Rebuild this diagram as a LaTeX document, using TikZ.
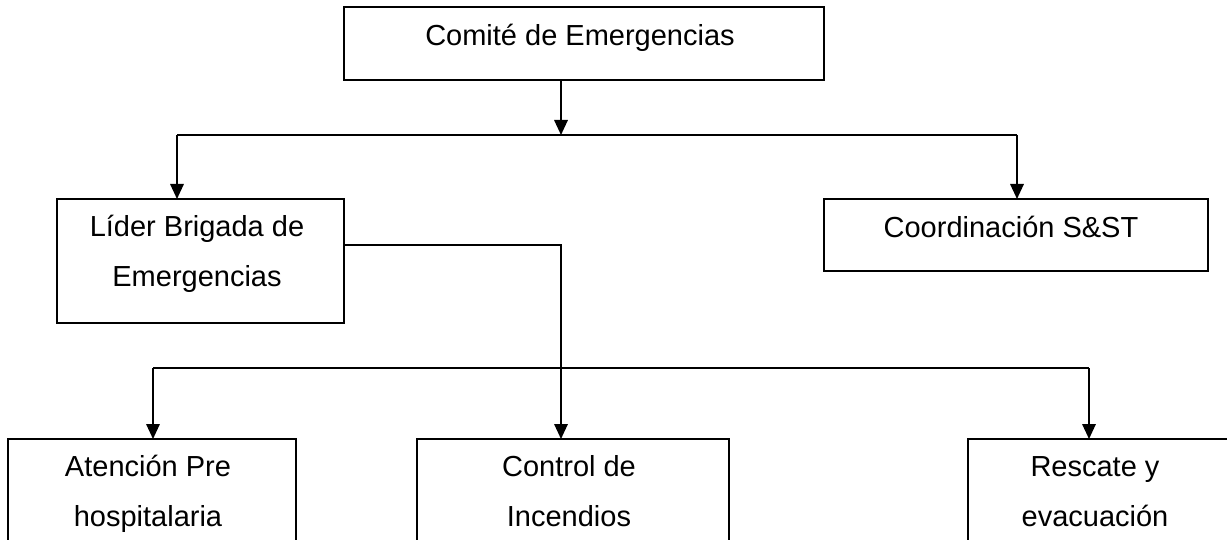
\documentclass[tikz,border=0pt]{standalone}
\usepackage{fontspec}
\setmainfont{Liberation Sans}
\usetikzlibrary{arrows.meta}
\begin{document}
\begin{tikzpicture}[x=1pt,y=-1pt,
  box/.style={draw=black,line width=1.7pt,minimum width=#1,inner sep=0pt,outer sep=0pt},
  lbl/.style={anchor=base,align=center,inner sep=0pt,font=\fontsize{29}{50}\selectfont},
  conn/.style={line width=1.7pt},
  arr/.style={line width=1.7pt,-{Triangle[width=13.5pt,length=15pt]}}]
\useasboundingbox (0,0) rectangle (1227,540);
\clip (0,0) rectangle (1227,540);
% boxes
\node[box=480pt,minimum height=73pt] (top) at (584,43.5) {};
\node[box=287pt,minimum height=124pt] (lider) at (200.5,261) {};
\node[box=384pt,minimum height=72pt] (coord) at (1016,235) {};
\node[box=288pt,minimum height=161pt] (aten) at (152,519.5) {};
\node[box=312pt,minimum height=161pt] (ctrl) at (573,519.5) {};
\node[box=272pt,minimum height=161pt] (resc) at (1104,519.5) {};
% texts (base anchor = baseline of last line)
\node[lbl] (ttop) at (580,46) {Comité de Emergencias};
\node[lbl] (tlider) at (197,287) {Líder Brigada de\\Emergencias};
\node[lbl] (tcoord) at (1011,238) {Coordinación S\&ST};
\node[lbl] (taten) at (148,526) {Atención Pre\\hospitalaria};
\node[lbl] (tctrl) at (569,526) {Control de\\Incendios};
\node[lbl] (tresc) at (1095,526) {Rescate y\\evacuación};
% junctions
\coordinate (j1) at (561,135);
\coordinate (hl) at (177,135);
\coordinate (hr) at (1017,135);
\coordinate (lj) at (344,245);
\coordinate (cj) at (561,245);
\coordinate (bl) at (153,368);
\coordinate (br) at (1089,368);
% connectors
\draw[arr] (top.south -| j1) -- (j1);
\draw[conn] (hl) -- (hr);
\draw[arr] (hl) -- (hl |- lider.north);
\draw[arr] (hr) -- (hr |- coord.north);
\draw[arr] (lider.east |- lj) -- (cj) -- (cj |- ctrl.north);
\draw[conn] (bl) -- (br);
\draw[arr] (bl) -- (bl |- aten.north);
\draw[arr] (br) -- (br |- resc.north);
\end{tikzpicture}
\end{document}
